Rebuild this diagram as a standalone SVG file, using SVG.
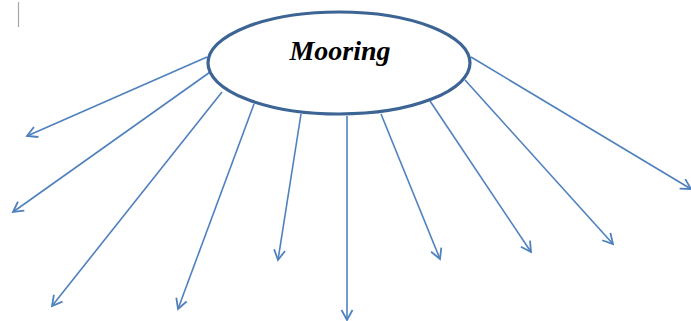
<svg xmlns="http://www.w3.org/2000/svg" width="691" height="321" viewBox="0 0 691 321">
<style>
.c{stroke:#4f81bd;stroke-width:1.6;fill:none;marker-end:url(#ah)}
.n{fill:#ffffff;stroke:#3c6494;stroke-width:3.2}
.t{font-family:"Liberation Serif",serif;font-weight:bold;font-style:italic;font-size:28px;fill:#000}
</style>
<defs>
<marker id="ah" markerUnits="userSpaceOnUse" markerWidth="14" markerHeight="14" viewBox="-12 -7 14 14" refX="0" refY="0" orient="auto">
<path d="M-10,-5.5 L0,0 L-10,5.5" fill="none" stroke="#4f81bd" stroke-width="1.8"/>
</marker>
</defs>
<rect width="691" height="321" fill="#ffffff"/>
<line x1="18.5" y1="2" x2="18.5" y2="27" stroke="#a6a6a6" stroke-width="1.2"/>
<g id="connectors">
<line class="c" x1="207" y1="57" x2="27" y2="136"/>
<line class="c" x1="213" y1="70" x2="13" y2="212"/>
<line class="c" x1="222" y1="92" x2="52" y2="306"/>
<line class="c" x1="254" y1="104" x2="178" y2="309"/>
<line class="c" x1="301" y1="114" x2="278" y2="260"/>
<line class="c" x1="347" y1="116" x2="347" y2="320"/>
<line class="c" x1="381" y1="114" x2="440" y2="259"/>
<line class="c" x1="430" y1="101" x2="531" y2="252"/>
<line class="c" x1="465" y1="80" x2="613" y2="244"/>
<line class="c" x1="471" y1="57" x2="691" y2="189"/>
</g>
<g id="mooring">
<ellipse class="n" cx="339" cy="63" rx="131" ry="51"/>
<text class="t" x="340" y="60" text-anchor="middle">Mooring</text>
</g>
</svg>
